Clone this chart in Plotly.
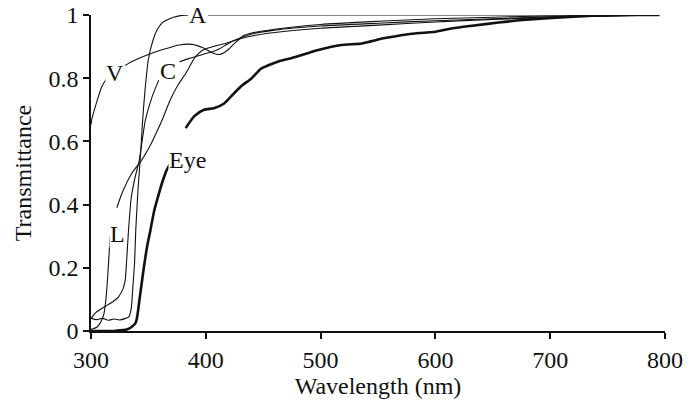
import plotly.graph_objects as go

# ---- data ----
wl_A = [300, 305, 310, 315, 320, 325, 330, 333, 335, 336.5, 338, 339, 341, 343, 345, 347, 350, 354, 357.6, 362, 366, 372, 378, 385,
        None, 402, 450, 500, 600, 700, 795]
t_A = [0.04, 0.036, 0.04, 0.034, 0.038, 0.035, 0.04, 0.045, 0.07, 0.14, 0.22, 0.32, 0.45, 0.55, 0.668, 0.76, 0.86, 0.92, 0.953, 0.975, 0.984, 0.993, 0.998, 1.0,
       None, 1.0, 1.0, 1.0, 1.0, 1.0, 1.0]

wl_V = [300, 300.6, 305, 309.4, 313, 315.2, None, 330, 332.7, 340, 353, 365, 376.6, 388, 397, 406, 412, 418, 425, 433, 440, 460, 500, 550, 600, 650, 700, 795]
t_V = [0.652, 0.668, 0.725, 0.773, 0.795, 0.805, None, 0.84, 0.847, 0.86, 0.879, 0.893, 0.905, 0.907, 0.897, 0.880, 0.875, 0.886, 0.91, 0.935, 0.943, 0.955, 0.97, 0.98, 0.988, 0.993, 0.997, 1.0]

wl_C = [300, 303.5, 308, 312, 318, 324, 328, 329.8, 331, 332.7, 335, 338, 342, 347.4, 353.2, 359, None, 377, 385, 391, 398, 405.8, 412, 417.5, 425, 440, 460, 500, 550, 600, 650, 700, 795]
t_C = [0.04, 0.056, 0.068, 0.077, 0.09, 0.108, 0.135, 0.161, 0.22, 0.32, 0.42, 0.48, 0.54, 0.668, 0.741, 0.794, None, 0.852, 0.862, 0.868, 0.876, 0.884, 0.893, 0.905, 0.92, 0.94, 0.952, 0.965, 0.974, 0.982, 0.988, 0.994, 1.0]

wl_L = [300, 305, 308, 311, 313, 314.5, 316.7, None, 322.5, 327, 335.7, 344, 352, 358, 362, 369, 376, 382.5, 391, 398, 406, 417, 430, 450, 500, 550, 600, 650, 700, 795]
t_L = [0.005, 0.012, 0.025, 0.05, 0.1, 0.17, 0.30, None, 0.39, 0.436, 0.50, 0.54, 0.59, 0.636, 0.668, 0.731, 0.78, 0.815, 0.868, 0.89, 0.90, 0.91, 0.925, 0.94, 0.958, 0.968, 0.978, 0.986, 0.992, 1.0]

wl_Eye = [300, 310, 320, 325, 331, 335, 338.6, 340, 343, 346, 349, 351.8, 355, 357.6, 362, 366, 370.8, None,
          382.5, 390, 398.5, 407, 416, 424, 431, 440, 448, 454, 465, 475, 498, 518, 536, 556, 586, 600, 615, 632, 655, 676, 720, 764, 795]
t_Eye = [0.0, 0.0, 0.0, 0.002, 0.005, 0.012, 0.024, 0.04, 0.12, 0.2, 0.27, 0.32, 0.38, 0.415, 0.47, 0.51, 0.541, None,
         0.642, 0.68, 0.70, 0.705, 0.72, 0.75, 0.775, 0.80, 0.83, 0.84, 0.855, 0.864, 0.889, 0.905, 0.91, 0.927, 0.943, 0.947, 0.958, 0.966, 0.976, 0.984, 0.995, 1.0, 1.0]

labels = ["A", "V", "C", "L", "Eye"]
label_x = [393, 321, 367.5, 322.8, 384]
label_y = [1.0, 0.816, 0.823, 0.307, 0.54]

x_ticks = [300, 400, 500, 600, 700, 800]
y_ticks = [0, 0.2, 0.4, 0.6, 0.8, 1]

FONT = "Liberation Serif"
FS = 24

fig = go.Figure()
series = [(wl_A, t_A, 1.1), (wl_V, t_V, 1.1), (wl_C, t_C, 1.1), (wl_L, t_L, 1.1), (wl_Eye, t_Eye, 2.6)]
for (xs, ys, w), name in zip(series, labels):
    fig.add_trace(go.Scatter(x=xs, y=ys, mode="lines", name=name,
                             line=dict(color="#111111", width=w, shape="spline", smoothing=0.6),
                             connectgaps=False, showlegend=False, hoverinfo="skip"))

for name, lx, ly in zip(labels, label_x, label_y):
    fig.add_annotation(x=lx, y=ly, text=name, showarrow=False, xref="x", yref="y",
                       font=dict(family=FONT, size=FS, color="#111111"),
                       bgcolor="white", borderpad=0)

fig.update_layout(
    width=690, height=402,
    margin=dict(l=91, r=25, t=15, b=71),
    paper_bgcolor="white", plot_bgcolor="white",
    font=dict(family=FONT, size=FS, color="#111111"),
)
fig.update_xaxes(range=[300, 800], tickvals=x_ticks, ticks="outside", ticklen=6, tickwidth=1.5,
                 tickcolor="#111111", showline=True, linecolor="#111111", linewidth=1.5,
                 showgrid=False, zeroline=False, automargin=False,
                 tickfont=dict(family=FONT, size=FS),
                 title=dict(text="Wavelength (nm)", font=dict(family=FONT, size=FS), standoff=3))
fig.update_yaxes(range=[0, 1], tickvals=y_ticks, ticks="outside", ticklen=6, tickwidth=1.5,
                 tickcolor="#111111", showline=True, linecolor="#111111", linewidth=1.5,
                 showgrid=False, zeroline=False, automargin=False,
                 tickfont=dict(family=FONT, size=FS),
                 title=dict(text="Transmittance", font=dict(family=FONT, size=FS), standoff=10))

fig.write_html("out.html")
